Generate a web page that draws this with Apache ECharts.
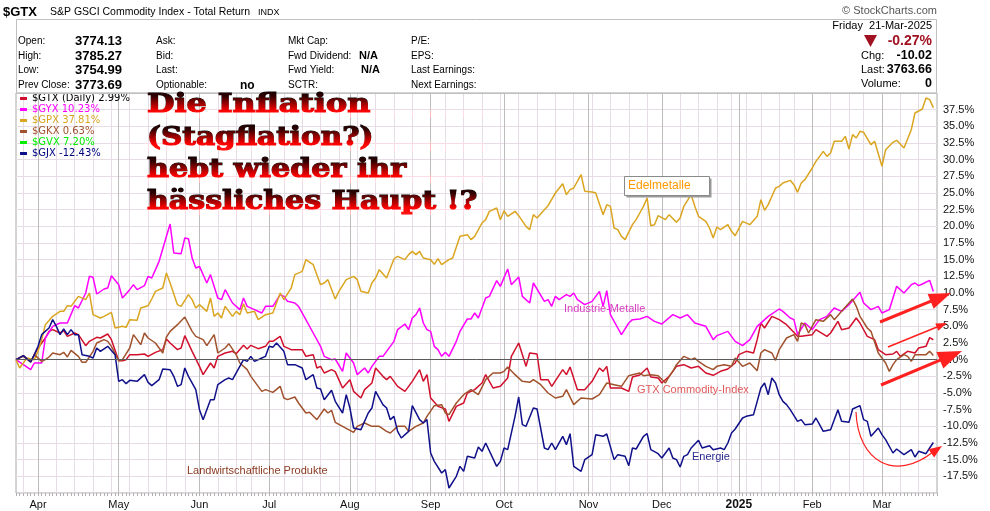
<!DOCTYPE html>
<html><head><meta charset="utf-8">
<script src="https://cdn.jsdelivr.net/npm/echarts/dist/echarts.min.js"></script>
<style>html,body{margin:0;padding:0;background:#fff}#c{width:990px;height:511px}</style>
</head><body><div id="c"></div>
<script>
// ---- categories: trading days ----
const startDate = '2024-03-21', endDate = '2025-03-21';
const holidays = ['2024-03-29','2024-05-27','2024-06-19','2024-07-04','2024-09-02','2024-11-28','2024-12-25','2025-01-01','2025-01-09','2025-01-20','2025-02-17'];
const monthNames = ['2025','Feb','Mar','Apr','May','Jun','Jul','Aug','Sep','Oct','Nov','Dec'];
const yTicks = [-17.5,-15,-12.5,-10,-7.5,-5,-2.5,0,2.5,5,7.5,10,12.5,15,17.5,20,22.5,25,27.5,30,32.5,35,37.5];

// ---- series: [trading-day index, % change] ----
const symbols = ['$GTX (Daily)','$GYX','$GPX','$GKX','$GVX','$GJX'];
const lastPct = ['2.99%','10.23%','37.81%','0.63%','7.20%','-12.43%'];
const gtx = [[0,0],[2,0.6],[4,-0.35],[5,0.75],[6,1.75],[8,3.25],[9,4.25],[10,4.5],[12,4.0],[13,4.35],[14,3.5],[16,4.0],[17,3.75],[19,2.1],[20,2.75],[22,3.35],[23,3.25],[25,3.85],[26,3.0],[28,-0.15],[29,-0.15],[30,0],[31,0.75],[33,0.75],[35,0.85],[36,0.5],[38,1.1],[40,1.5],[41,3.1],[42,2.5],[44,1.5],[45,1.75],[46,3.6],[48,1.25],[50,-1.0],[51,-2.25],[53,-0.5],[54,-1.25],[55,0.5],[57,1.0],[59,1.25],[60,0.9],[62,2.15],[63,1.6],[64,2.15],[66,1.65],[68,2.0],[69,2.75],[70,2.75],[72,3.5],[73,2.0],[75,1.5],[78,1.5],[79,0.5],[81,0.75],[82,-1.25],[83,-1.0],[84,-2.0],[86,-1.5],[87,-1.8],[89,-4.25],[91,-3.0],[92,-4.75],[94,-5.75],[95,-4.5],[97,-3.5],[98,-1.25],[100,-2.5],[101,-3.0],[102,-2.5],[104,-4.0],[106,-4.75],[108,-3.25],[110,-1.5],[111,-3.25],[112,-2.25],[113,-5.75],[115,-7.0],[117,-7.4],[118,-9.25],[120,-7.0],[122,-6.5],[123,-5.0],[125,-4.5],[127,-3.5],[128,-2.25],[130,-4.25],[132,-4.0],[134,-2.75],[135,0.5],[137,2.5],[139,-1.0],[140,1.0],[142,0.85],[143,-3.0],[145,-3.0],[146,-4.0],[149,-1.5],[150,-2.25],[151,-1.1],[153,-4.5],[155,-4.5],[157,-3.25],[159,-1.25],[160,-1.75],[161,-1.0],[162,-4.25],[165,-4.25],[167,-4.75],[168,-2.6],[170,-2.3],[172,-1.25],[173,-2.6],[175,-2.75],[176,-3.5],[178,-2.5],[180,-1.0],[182,-0.75],[184,-1.25],[186,-1.0],[188,-2.0],[190,-2.35],[192,-1.75],[194,-1.4],[196,-0.5],[197,0.75],[199,1.25],[201,1.0],[202,3.0],[203,5.5],[204,4.75],[206,6.5],[208,6.0],[210,5.25],[213,3.5],[214,3.5],[217,3.75],[218,4.5],[221,3.5],[222,4.0],[224,5.75],[225,4.5],[227,4.75],[229,6.25],[230,5.5],[232,3.5],[234,3.0],[235,1.5],[237,0.75],[239,0.85],[240,1.25],[241,0.5],[243,1.25],[245,1.0],[246,1.75],[248,2.0],[249,3.3],[250,2.99]];
const gyx = [[0,0],[2,-0.75],[4,-1.5],[5,-0.5],[7,-0.5],[8,3.25],[10,5.0],[12,5.5],[14,5.5],[16,8.1],[17,7.75],[19,10],[20,12.5],[21,12.35],[22,9.85],[24,10.6],[25,10.75],[26,12.6],[28,11.25],[29,9.25],[31,10.5],[32,11.25],[33,10.5],[35,11.1],[36,12.5],[37,12.25],[39,14.75],[41,18.5],[42,20.35],[43,16.0],[45,15.9],[46,18.25],[47,18.15],[48,15.25],[49,13.75],[50,14.0],[52,11.5],[53,12.75],[55,9.25],[56,9.0],[57,10.5],[59,8.5],[61,7.5],[62,9.25],[63,8.0],[65,7.5],[67,7.0],[68,8.0],[70,8.0],[72,9.75],[73,9.5],[74,8.75],[76,8.5],[77,8.0],[79,6.0],[81,4.0],[83,2.0],[84,0.5],[86,0],[87,0.1],[89,-1.75],[90,1.0],[92,-0.5],[93,-2.25],[95,-1.25],[96,-2.0],[97,-1.0],[99,0.5],[100,0.5],[102,2.0],[103,2.75],[104,4.5],[106,5.35],[107,4.5],[108,6.25],[109,6.75],[110,7.75],[111,5.5],[112,4.5],[113,4.25],[114,2.0],[115,1.5],[116,0.5],[117,1.1],[118,0.5],[120,2.75],[121,4.25],[123,6.1],[124,6.1],[125,7.0],[126,6.25],[128,9.25],[129,9.5],[131,11.85],[132,11.0],[134,13.6],[135,11.25],[137,12.4],[138,9.5],[140,8.5],[141,11.5],[144,8.75],[145,9.0],[146,8.0],[147,9.5],[148,9.0],[150,9.75],[151,9.5],[152,10.0],[153,9.0],[155,8.25],[157,8.75],[159,10.25],[160,8.0],[161,10.35],[162,6.75],[164,4.75],[165,3.75],[167,5.5],[168,6.0],[170,6.1],[172,6.5],[174,5.75],[176,5.35],[179,6.75],[181,6.25],[183,6.75],[185,5.5],[188,5.0],[190,3.0],[191,3.6],[194,4.25],[196,2.75],[198,2.1],[200,3.0],[202,5.0],[205,6.5],[208,7.6],[209,7.25],[211,6.25],[212,6.0],[213,3.75],[215,5.5],[217,4.5],[219,6.0],[221,6.5],[223,7.75],[225,7.25],[227,8.25],[230,10.1],[231,8.5],[233,7.5],[235,8.0],[236,7.0],[238,7.5],[240,11.0],[242,10.0],[244,11.25],[245,11.5],[246,11.1],[247,11.35],[249,11.9],[250,10.23]];
const gpx = [[0,0],[1,-1.25],[3,0.25],[5,0],[6,1.25],[7,3.0],[8,5.25],[10,6.5],[12,7.25],[13,7.25],[14,8.1],[15,8.0],[17,9.5],[19,9.0],[20,10.0],[21,6.75],[23,6.25],[24,6.5],[26,7.1],[27,4.75],[29,5.0],[30,4.85],[31,6.0],[33,5.9],[34,7.75],[36,8.1],[37,9.1],[38,10.25],[40,10.75],[41,13.0],[42,11.5],[44,8.25],[45,8.0],[47,9.75],[48,9.0],[49,7.75],[50,8.25],[52,7.25],[53,9.25],[54,6.5],[55,7.0],[56,6.25],[57,8.0],[59,6.5],[60,7.25],[61,6.75],[62,8.4],[63,7.0],[65,7.25],[66,6.0],[68,6.75],[70,7.0],[72,10.0],[73,9.0],[75,10.75],[76,12.75],[78,13.25],[79,15.0],[81,14.25],[83,11.25],[84,11.5],[85,12.0],[87,9.1],[88,10.25],[90,12.0],[92,12.5],[93,12.0],[94,10.25],[96,10.0],[97,11.5],[98,12.25],[99,13.5],[101,12.25],[103,15.1],[104,15.5],[106,15.0],[107,15.75],[108,16.25],[109,15.75],[110,16.25],[111,15.25],[113,15.0],[114,14.3],[115,15.15],[116,14.25],[118,15.0],[119,15.25],[121,18.5],[123,18.75],[124,18.0],[125,18.5],[127,20.5],[128,21.0],[129,22.25],[131,22.75],[132,21.0],[133,22.35],[134,21.5],[136,22.25],[137,21.6],[139,20.0],[140,19.5],[141,21.75],[142,21.25],[144,22.5],[145,23.1],[147,25.0],[149,26.4],[150,24.75],[151,25.5],[152,25.75],[154,27.75],[155,25.25],[157,25.15],[158,25.0],[160,21.75],[161,23.25],[162,23.0],[163,19.75],[164,19.5],[165,18.5],[166,18.0],[168,20.25],[169,21.0],[170,22.0],[171,23.0],[172,24.25],[173,20.1],[174,20.25],[175,21.6],[177,21.0],[178,21.75],[180,20.6],[181,21.25],[182,23.0],[184,24.75],[185,23.0],[186,21.5],[188,20.75],[189,19.75],[190,18.25],[191,19.9],[192,19.5],[194,20.25],[195,19.25],[196,18.6],[198,20.75],[200,20.25],[202,21.5],[203,24.0],[204,22.4],[205,23.25],[207,25.75],[208,26.0],[209,26.5],[211,26.9],[212,26.25],[213,25.1],[214,26.5],[215,27.0],[217,28.75],[218,29.75],[220,31.25],[221,30.5],[222,31.0],[223,32.75],[225,32.75],[226,33.5],[227,31.6],[228,33.75],[229,33.25],[230,34.25],[231,34.1],[233,32.25],[234,32.75],[236,29.0],[237,31.5],[239,32.6],[240,32.9],[242,31.75],[244,34.5],[245,37.0],[247,37.6],[248,39.25],[249,39.0],[250,37.81]];
const gkx = [[0,0],[2,0.5],[4,-0.35],[5,0.75],[7,-0.25],[8,0],[9,0.4],[10,1.0],[12,0.75],[13,1.1],[14,0.4],[15,1.4],[17,0.5],[18,-0.4],[19,-0.4],[21,1.25],[22,2.5],[24,3.0],[25,2.75],[26,2.0],[28,-0.15],[29,0],[31,1.75],[32,3.75],[33,3.0],[34,2.25],[35,4.0],[36,3.25],[38,2.5],[40,1.0],[41,3.4],[42,4.25],[44,5.25],[46,6.4],[48,4.25],[49,3.5],[51,3.0],[52,2.1],[54,3.75],[55,1.0],[57,1.75],[58,2.4],[60,0.75],[61,-0.5],[63,-1.5],[64,-2.5],[65,-3.25],[67,-4.75],[68,-4.5],[70,-4.9],[72,-4.0],[73,-5.75],[74,-6.0],[76,-5.6],[77,-6.5],[79,-8.0],[80,-7.9],[82,-9.0],[84,-7.4],[85,-8.0],[86,-7.6],[87,-9.4],[89,-10.0],[92,-10.9],[93,-10.0],[95,-9.5],[97,-10.0],[99,-10.0],[101,-10.75],[102,-11.0],[104,-10.0],[106,-10.0],[107,-10.75],[109,-10.0],[111,-9.5],[112,-8.5],[114,-6.9],[116,-6.75],[117,-8.0],[118,-8.25],[120,-6.5],[122,-5.25],[124,-4.5],[126,-5.25],[128,-3.0],[130,-2.0],[132,-2.0],[133,-1.75],[134,-1.1],[136,-2.25],[138,-3.25],[140,-3.4],[141,-3.0],[143,-3.75],[145,-5.0],[147,-5.75],[149,-5.5],[150,-4.5],[152,-6.75],[154,-5.75],[157,-5.9],[159,-5.25],[161,-3.5],[163,-3.75],[165,-4.0],[167,-2.4],[168,-2.25],[170,-2.0],[171,-2.4],[173,-2.25],[175,-2.4],[177,-3.5],[178,-2.5],[179,-1.75],[180,-0.75],[182,0.5],[184,0],[185,0.25],[186,-0.25],[188,-1.0],[190,-1.5],[191,-1.0],[193,-0.75],[195,-1.0],[196,0.25],[198,-1.0],[200,-0.5],[202,-1.65],[203,1.0],[204,1.5],[206,1.0],[207,-0.1],[208,1.5],[210,3.25],[212,3.75],[213,2.75],[214,5.5],[215,5.25],[216,4.0],[218,6.0],[220,5.75],[222,6.75],[223,6.0],[225,7.25],[228,9.1],[229,8.0],[230,6.5],[232,4.75],[233,4.25],[235,1.0],[237,-0.5],[238,-1.75],[239,-0.75],[240,0],[242,0.75],[243,0.5],[244,-0.25],[245,0.75],[248,0.75],[249,1.25],[250,0.63]];
const gvx = [];
const gjx = [[0,0],[2,0.6],[4,-0.35],[5,0.75],[6,2.0],[7,3.75],[9,4.75],[10,6.0],[11,5.0],[12,3.75],[13,4.6],[14,3.75],[15,4.5],[16,3.75],[17,3.75],[18,0.75],[20,0.5],[21,0.25],[22,1.75],[23,1.25],[25,2.0],[27,0.75],[28,-3.25],[29,-3.0],[30,-3.6],[31,-3.1],[33,-3.25],[35,-2.25],[36,-3.4],[37,-3.9],[39,-3.0],[40,-1.4],[42,-1.5],[43,-2.5],[44,-4.0],[45,-3.75],[46,-1.25],[47,-2.5],[49,-4.5],[50,-7.5],[51,-9.0],[52,-7.5],[53,-6.0],[54,-6.0],[55,-3.75],[57,-3.0],[58,-2.75],[59,-3.0],[61,-1.0],[62,0],[63,-0.25],[64,0.5],[65,-0.25],[67,0.25],[68,0.5],[69,2.0],[70,1.85],[71,2.5],[73,1.25],[74,-0.75],[76,-0.75],[78,-1.25],[79,-3.0],[81,-2.25],[82,-4.25],[83,-4.4],[84,-6.0],[86,-4.6],[87,-6.25],[89,-8.0],[90,-5.25],[91,-7.25],[92,-10.25],[94,-10.5],[96,-8.0],[97,-7.25],[98,-4.75],[100,-6.75],[101,-7.25],[102,-9.0],[103,-8.5],[104,-10.75],[105,-11.75],[107,-10.75],[108,-6.9],[110,-9.0],[111,-9.5],[112,-9.0],[113,-14.0],[114,-15.25],[116,-17.0],[117,-16.5],[118,-19.25],[120,-17.5],[121,-16.0],[122,-16.75],[123,-14.5],[125,-14.75],[126,-13.1],[127,-13.75],[128,-12.5],[131,-16.0],[132,-15.25],[133,-13.25],[134,-13.5],[136,-8.5],[137,-5.6],[138,-9.75],[139,-10.0],[141,-7.25],[142,-7.4],[144,-13.25],[145,-13.5],[146,-12.5],[147,-13.5],[149,-11.5],[150,-12.75],[151,-11.1],[152,-16.0],[154,-16.75],[155,-15.0],[157,-14.25],[158,-11.25],[160,-11.5],[161,-11.15],[163,-15.0],[164,-14.25],[166,-14.5],[167,-15.9],[168,-13.25],[169,-13.4],[171,-11.5],[172,-11.1],[173,-13.5],[175,-14.1],[176,-14.75],[178,-13.25],[179,-14.75],[180,-15.0],[181,-16.1],[182,-14.5],[183,-14.25],[184,-13.25],[186,-12.1],[187,-13.25],[189,-12.9],[190,-13.5],[192,-13.25],[193,-13.5],[194,-12.5],[195,-11.0],[196,-10.4],[198,-8.75],[199,-8.5],[201,-8.25],[202,-6.25],[203,-4.25],[204,-3.5],[205,-5.25],[206,-2.75],[207,-3.5],[208,-5.25],[209,-6.25],[210,-6.75],[211,-7.5],[213,-9.25],[214,-9.0],[215,-9.75],[217,-9.65],[218,-8.75],[219,-9.75],[220,-10.75],[222,-10.5],[224,-7.5],[225,-9.25],[227,-9.4],[228,-7.4],[230,-6.9],[231,-9.0],[232,-9.25],[233,-11.5],[235,-10.25],[236,-11.25],[237,-12.0],[239,-14.0],[240,-13.4],[242,-14.25],[244,-13.5],[245,-14.6],[246,-13.75],[248,-14.1],[249,-13.25],[250,-12.43]];

const seriesData = [gtx, gyx, gpx, gkx, gvx, gjx];
const lineColors = ['#d0102c','#ff00ff','#daa520','#a0522d','#00ee00','#10108a'];
const legendTextColors = ['#000000','#ff00ff','#daa520','#a0522d','#00ee00','#000080'];
const titleLines = ['Die Inflation', '(Stagflation?)', 'hebt wieder ihr', 'h\u00e4ssliches Haupt !?'];

// build category list
const days = [];
const hol = new Set(holidays);
for (let d = new Date(startDate + 'T00:00:00Z'); d <= new Date(endDate + 'T00:00:00Z'); d.setUTCDate(d.getUTCDate() + 1)) {
  const dow = d.getUTCDay();
  const s = d.toISOString().slice(0, 10);
  if (dow === 0 || dow === 6 || hol.has(s)) continue;
  days.push(s);
}
const monthStart = new Set(), weekStart = new Set();
for (let i = 1; i < days.length; i++) {
  if (days[i].slice(5, 7) !== days[i - 1].slice(5, 7)) monthStart.add(i);
  const a = new Date(days[i] + 'T00:00:00Z').getUTCDay(), b = new Date(days[i - 1] + 'T00:00:00Z').getUTCDay();
  if (a < b) weekStart.add(i);
}

const chart = echarts.init(document.getElementById('c'), null, { renderer: 'canvas' });
const names = symbols.map((s, i) => s + ' ' + lastPct[i]);

const series = seriesData.map((d, i) => ({
  name: names[i], type: 'line', data: d, showSymbol: false, symbol: 'none',
  lineStyle: { color: lineColors[i], width: 1.5 }, itemStyle: { color: lineColors[i] },
  xAxisIndex: 0, yAxisIndex: 0, animation: false, silent: true, z: 3
}));
series[0].markLine = {
  silent: true, symbol: ['none', 'none'], label: { show: false },
  lineStyle: { color: '#5a5a5a', width: 1, type: 'solid' },
  data: [{ yAxis: 0 }], animation: false
};

const SANS = 'Liberation Sans, Arial, sans-serif';
function T(x, y, text, font, fill, align) {
  return { type: 'text', x: x, y: y, z: 50, silent: true,
    style: { text: text, font: font, fill: fill || '#000', align: align || 'left', verticalAlign: 'middle' } };
}
function arrowHead(x1, y1, x2, y2, len, w, color) {
  const ang = Math.atan2(y2 - y1, x2 - x1);
  const bx = x2 - len * Math.cos(ang), by = y2 - len * Math.sin(ang);
  const px = Math.sin(ang) * w / 2, py = -Math.cos(ang) * w / 2;
  return { type: 'polygon', z: 60, silent: true, shape: { points: [[x2, y2], [bx + px, by + py], [bx - px, by - py]] }, style: { fill: color } };
}
function arrow(x1, y1, x2, y2, lw, len, w) {
  const ang = Math.atan2(y2 - y1, x2 - x1);
  return [
    { type: 'line', z: 60, silent: true, shape: { x1: x1, y1: y1, x2: x2 - len * 0.8 * Math.cos(ang), y2: y2 - len * 0.8 * Math.sin(ang) }, style: { stroke: '#ff2020', lineWidth: lw } },
    arrowHead(x1, y1, x2, y2, len, w, '#ff2020')
  ];
}
// Title: black text, then a vertical red gradient laid over it with 'lighten' blending
const TITLE_FONT = 'bold 26px "DejaVu Serif", serif';
const titleY = [105, 138, 170, 202];
const titleScale = [1.22, 1.135, 1.16, 1.155];
const titleGraphics = [];
titleLines.forEach((t, i) => {
  titleGraphics.push({
    type: 'text', x: 147, y: titleY[i], scaleX: titleScale[i], z: 45, silent: true,
    style: { text: t, font: TITLE_FONT, fill: '#000', stroke: '#000', lineWidth: 1.2, verticalAlign: 'middle' }
  });
  titleGraphics.push({
    type: 'rect', z: 46, silent: true,
    shape: { x: 144, y: titleY[i] - 15, width: 340, height: 28 },
    style: {
      blend: 'lighten',
      fill: new echarts.graphic.LinearGradient(0, 0, 0, 1, [
        { offset: 0, color: '#140000' }, { offset: 0.22, color: '#300000' }, { offset: 0.5, color: '#a00000' },
        { offset: 0.75, color: '#ff0000' }, { offset: 1, color: '#ff1818' }])
    }
  });
});

const graphics = [
  // header
  T(3, 12, '$GTX', 'bold 13px ' + SANS),
  T(50, 12, 'S&P GSCI Commodity Index - Total Return', '10.5px ' + SANS),
  T(258, 13, 'INDX', '9px ' + SANS),
  T(937, 11, '\u00A9 StockCharts.com', '11px ' + SANS, '#555', 'right'),
  { type: 'rect', z: 40, silent: true, shape: { x: 16.5, y: 19.5, width: 920, height: 74 }, style: { fill: 'none', stroke: '#c0c0c0', lineWidth: 1 } },
  T(18, 41, 'Open:', '10px ' + SANS), T(122, 41, '3774.13', 'bold 13px ' + SANS, '#000', 'right'),
  T(18, 56, 'High:', '10px ' + SANS), T(122, 56, '3785.27', 'bold 13px ' + SANS, '#000', 'right'),
  T(18, 70, 'Low:', '10px ' + SANS), T(122, 70, '3754.99', 'bold 13px ' + SANS, '#000', 'right'),
  T(18, 85, 'Prev Close:', '10px ' + SANS), T(122, 85, '3773.69', 'bold 13px ' + SANS, '#000', 'right'),
  T(156, 41, 'Ask:', '10px ' + SANS), T(156, 56, 'Bid:', '10px ' + SANS), T(156, 70, 'Last:', '10px ' + SANS),
  T(156, 85, 'Optionable:', '10px ' + SANS), T(240, 86, 'no', 'bold 12px ' + SANS),
  T(288, 41, 'Mkt Cap:', '10px ' + SANS), T(288, 56, 'Fwd Dividend:', '10px ' + SANS), T(359, 56, 'N/A', 'bold 11px ' + SANS),
  T(288, 70, 'Fwd Yield:', '10px ' + SANS), T(361, 70, 'N/A', 'bold 11px ' + SANS), T(288, 85, 'SCTR:', '10px ' + SANS),
  T(411, 41, 'P/E:', '10px ' + SANS), T(411, 56, 'EPS:', '10px ' + SANS), T(411, 70, 'Last Earnings:', '10px ' + SANS), T(411, 85, 'Next Earnings:', '10px ' + SANS),
  T(932, 26, 'Friday  21-Mar-2025', '11px ' + SANS, '#000', 'right'),
  { type: 'polygon', z: 50, silent: true, shape: { points: [[864, 35], [877, 35], [870.5, 47]] }, style: { fill: '#a01020' } },
  T(932, 41, '-0.27%', 'bold 14px ' + SANS, '#a01020', 'right'),
  T(861, 56, 'Chg:', '11px ' + SANS), T(932, 56, '-10.02', 'bold 12.5px ' + SANS, '#000', 'right'),
  T(861, 70, 'Last:', '11px ' + SANS), T(932, 70, '3763.66', 'bold 12.5px ' + SANS, '#000', 'right'),
  T(861, 84, 'Volume:', '11px ' + SANS), T(932, 84, '0', 'bold 12.5px ' + SANS, '#000', 'right'),
  ...titleGraphics,
  // labels
  { type: 'rect', z: 44, silent: true, shape: { x: 626.5, y: 178.5, width: 85, height: 19 }, style: { fill: '#9a9a9a' } },
  { type: 'rect', z: 45, silent: true, shape: { x: 624.5, y: 176.5, width: 85, height: 19 }, style: { fill: '#fff', stroke: '#8a8a8a', lineWidth: 1 } },
  T(628, 186, 'Edelmetalle', '12px ' + SANS, '#ff9900'),
  T(564, 309, 'Industrie-Metalle', '11px ' + SANS, '#d83cc0'),
  T(637, 390, 'GTX Commodity-Index', '11px ' + SANS, '#e05a5a'),
  T(692, 457, 'Energie', '11px ' + SANS, '#2a2a90'),
  T(187, 471, 'Landwirtschaftliche Produkte', '11px ' + SANS, '#8b3a22'),
  // arrows
  ...arrow(880, 322, 951, 293, 3, 22, 16),
  ...arrow(888, 347, 947, 323, 1.5, 11, 8),
  ...arrow(881, 385, 962, 351, 3, 24, 18),
  { type: 'bezierCurve', z: 60, silent: true, shape: { x1: 856, y1: 412, cpx1: 858, cpy1: 462, cpx2: 895, cpy2: 482, x2: 933, y2: 452 }, style: { stroke: '#ff2020', lineWidth: 1.2, fill: 'none' } },
  arrowHead(929, 455, 942, 446, 13, 10, '#ff2020')
];

const gridLight = '#e6dce6';
const option = {
  animation: false,
  backgroundColor: '#fff',
  grid: { left: 16, right: 53, top: 93, bottom: 18, show: true, borderColor: '#a8a8a8', borderWidth: 1, backgroundColor: 'transparent' },
  legend: {
    orient: 'vertical', left: 20, top: 93, itemWidth: 7, itemHeight: 3, itemGap: 0, icon: 'rect',
    selectedMode: false, padding: 0,
    textStyle: { fontSize: 10, fontFamily: 'DejaVu Sans', lineHeight: 11 },
    data: names.map((n, i) => ({ name: n, itemStyle: { color: lineColors[i] }, textStyle: { color: legendTextColors[i] } }))
  },
  xAxis: [
    {
      type: 'category', data: days, boundaryGap: false, max: days.length, gridIndex: 0,
      axisLine: { show: false },
      axisTick: { show: false },
      axisLabel: {
        interval: (i) => monthStart.has(i), margin: 6, color: '#111', fontSize: 11, fontFamily: SANS,
        formatter: (v) => { if (!v) return ''; const m = parseInt(v.slice(5, 7), 10); return m === 1 ? '{b|2025}' : monthNames[m - 1]; },
        rich: { b: { fontWeight: 'bold', fontSize: 12, fontFamily: SANS, color: '#111' } }
      },
      splitLine: { show: true, interval: (i) => monthStart.has(i), lineStyle: { color: '#bcbcbc', width: 1 } },
      z: 2
    },
    {
      type: 'category', data: days, boundaryGap: false, max: days.length, gridIndex: 0, position: 'bottom',
      axisLine: { show: false },
      axisTick: { show: true, interval: 0, length: 3, lineStyle: { color: '#b0b0b0' } },
      axisLabel: { show: false },
      splitLine: { show: true, interval: (i) => weekStart.has(i) && !monthStart.has(i), lineStyle: { color: gridLight, width: 1 } },
      z: 1
    }
  ],
  yAxis: {
    type: 'value', position: 'right', min: -20, max: 40, interval: 2.5,
    axisLine: { show: false }, axisTick: { show: false },
    axisLabel: {
      margin: 6, color: '#111', fontSize: 11, fontFamily: SANS, showMinLabel: false, showMaxLabel: false,
      formatter: (v) => yTicks.indexOf(v) >= 0 ? v.toFixed(1) + '%' : ''
    },
    splitLine: { show: true, lineStyle: { color: gridLight, width: 1 } }
  },
  series: series,
  graphic: graphics
};
chart.setOption(option);
</script>
</body></html>
